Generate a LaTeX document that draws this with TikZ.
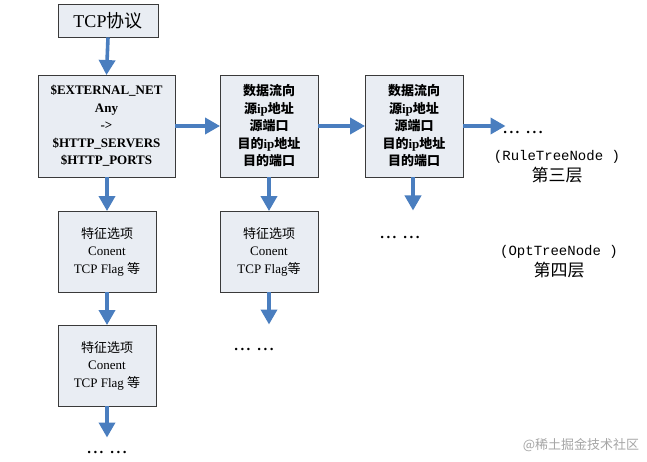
\documentclass[tikz,border=0pt]{standalone}
\usepackage{fontspec}
\setmainfont{Liberation Serif}
\newfontfamily\cjk{Noto Sans CJK SC}
\newfontfamily\mono{Liberation Mono}
\usetikzlibrary{arrows.meta}
\definecolor{arrblue}{HTML}{4A7EBF}
\definecolor{boxfill}{HTML}{E9EDF3}
\definecolor{boxline}{HTML}{3A3A3A}
\newcommand\mydotgrp{.\kern2.4pt.\kern2.4pt.}
\newcommand\mydots{\mydotgrp\kern7pt\mydotgrp}
\tikzset{
  box/.style={draw=boxline, line width=0.9pt, fill=boxfill, align=center, inner sep=0pt},
  flow/.style={draw=arrblue, line width=3.6pt, -{Triangle[width=16pt,length=15pt]}, shorten >=-0.5pt},
  txt/.style={align=center, inner sep=0pt},
  dotstyle/.style={inner sep=0pt, font=\bfseries\fontsize{15}{15}\selectfont},
}
\begin{document}
\begin{tikzpicture}[x=1pt,y=-1pt]
\useasboundingbox (0,0) rectangle (647,462);
\fill[white] (0,0) rectangle (647,462);
% boxes
\node[box, minimum width=100pt, minimum height=33pt, font=\fontsize{18}{20}\selectfont] (tcp) at (108,20.5) {TCP{\cjk 协议}};
\node[box, minimum width=137pt, minimum height=102pt, font=\bfseries\fontsize{13}{17.5}\selectfont] (rtn1) at (106.5,126) {\$EXTERNAL\_NET\\Any\\->\\\$HTTP\_SERVERS\\\$HTTP\_PORTS};
\node[box, minimum width=98pt, minimum height=102pt, font=\bfseries\fontsize{13}{17.5}\selectfont] (rtn2) at (269,126) {{\cjk\bfseries 数据流向}\\{\cjk\bfseries 源}ip{\cjk\bfseries 地址}\\{\cjk\bfseries 源端口}\\{\cjk\bfseries 目的}ip{\cjk\bfseries 地址}\\{\cjk\bfseries 目的端口}};
\node[box, minimum width=98pt, minimum height=102pt, font=\bfseries\fontsize{13}{17.5}\selectfont] (rtn3) at (414,126) {{\cjk\bfseries 数据流向}\\{\cjk\bfseries 源}ip{\cjk\bfseries 地址}\\{\cjk\bfseries 源端口}\\{\cjk\bfseries 目的}ip{\cjk\bfseries 地址}\\{\cjk\bfseries 目的端口}};
\node[box, minimum width=98pt, minimum height=81pt, font=\fontsize{13}{17.5}\selectfont] (otn1) at (107,251.5) {{\cjk 特征选项}\\Conent\\TCP Flag {\cjk 等}};
\node[box, minimum width=98pt, minimum height=81pt, font=\fontsize{13}{17.5}\selectfont] (otn2) at (107,365.5) {{\cjk 特征选项}\\Conent\\TCP Flag {\cjk 等}};
\node[box, minimum width=98pt, minimum height=81pt, font=\fontsize{13}{17.5}\selectfont] (otn3) at (269,251.5) {{\cjk 特征选项}\\Conent\\TCP Flag{\cjk 等}};
% free ends
\coordinate (e1) at (505,126);
\coordinate (e2) at (107,437);
\coordinate (e3) at (269,324);
\coordinate (e4) at (413,210);
% dots and labels
\node[dotstyle] (d1) at (523,132) {\mydots};
\node[dotstyle] (d2) at (107,452) {\mydots};
\node[dotstyle] (d3) at (254,349) {\mydots};
\node[dotstyle] (d4) at (400,237) {\mydots};
\node[txt, font=\fontsize{14}{21}\selectfont] (l1) at (557,167) {{\mono (RuleTreeNode )}\\{\cjk\fontsize{17}{21}\selectfont 第三层}};
\node[txt, font=\fontsize{14}{21}\selectfont] (l2) at (559,262) {{\mono (OptTreeNode )}\\{\cjk\fontsize{17}{21}\selectfont 第四层}};
\node[txt, font=\cjk\fontsize{13}{15}\selectfont, text=black!35] (wm) at (581,445) {@稀土掘金技术社区};
% connectors
\draw[flow] (tcp.south) -- (rtn1.north);
\draw[flow] (rtn1.east) -- (rtn2.west);
\draw[flow] (rtn2.east) -- (rtn3.west);
\draw[flow] (rtn3.east) -- (e1);
\draw[flow] (rtn1.south -| otn1) -- (otn1.north);
\draw[flow] (otn1.south) -- (otn2.north);
\draw[flow] (otn2.south) -- (e2);
\draw[flow] (rtn2.south) -- (otn3.north);
\draw[flow] (otn3.south) -- (e3);
\draw[flow] (rtn3.south -| e4) -- (e4);
\end{tikzpicture}
\end{document}
